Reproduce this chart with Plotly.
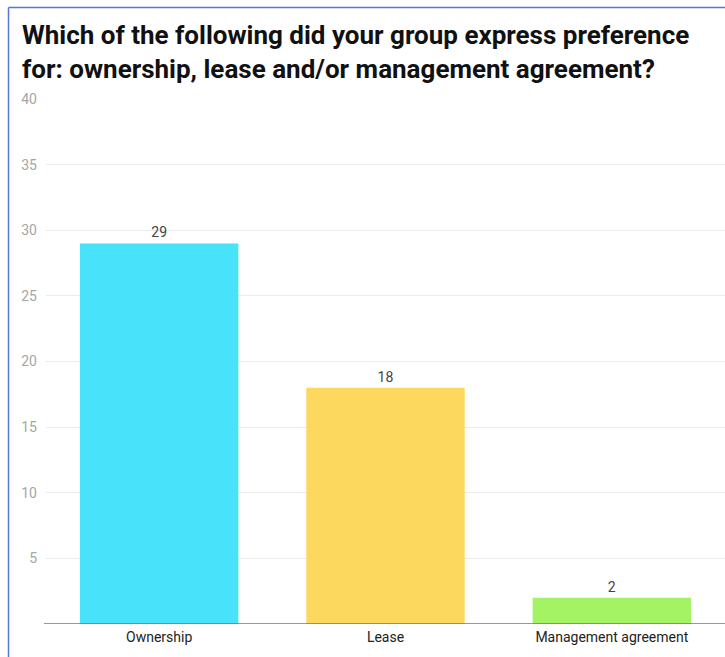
import plotly.graph_objects as go

categories = ["Ownership", "Lease", "Management agreement"]
values = [29, 18, 2]
colors = ["#48E2FA", "#FCD95E", "#A3F365"]
y_ticks = [0, 5, 10, 15, 20, 25, 30, 35, 40]
y_tick_labels = ["", "5", "10", "15", "20", "25", "30", "35", "40"]
title_lines = ["Which of the following did your group express preference",
               "for: ownership, lease and/or management agreement?"]

W, H = 725, 657
L, R, T, B = 46, 0, 99, 33
pw, ph = W - L - R, H - T - B

def px_x(px):
    return (px - L) / pw

def px_y(py):
    return (H - B - py) / ph

fig = go.Figure()
fig.add_trace(go.Bar(
    x=categories, y=values,
    marker=dict(color=colors, line=dict(width=0)),
    width=0.70,
    text=[str(v) for v in values],
    textposition="outside",
    textfont=dict(family="Roboto", size=14, color="#444444"),
    cliponaxis=False,
))

fig.update_layout(
    width=W, height=H,
    margin=dict(l=L, r=R, t=T, b=B, pad=0),
    paper_bgcolor="white", plot_bgcolor="white",
    showlegend=False,
    font=dict(family="Roboto", size=14, color="#333333"),
    xaxis=dict(
        showgrid=False, zeroline=False, showline=False,
        ticks="", tickfont=dict(family="Roboto", size=14, color="#222222"),
        range=[-0.5, 2.5], ticklabelstandoff=3,
    ),
    yaxis=dict(
        range=[0, 40], tickvals=y_ticks, ticktext=y_tick_labels,
        showgrid=True, gridcolor="#EBEBEB", gridwidth=1,
        zeroline=False, showline=False, ticks="",
        tickfont=dict(family="Roboto", size=14, color="#A6A6A6"),
        ticklabelstandoff=8,
    ),
)

# baseline
fig.add_shape(type="line", xref="paper", yref="y",
              x0=px_x(44), x1=1, y0=0, y1=0,
              line=dict(color="#777777", width=1.5))

# border (top and left)
fig.add_shape(type="line", xref="paper", yref="paper",
              x0=px_x(8.5), x1=px_x(W + 5), y0=px_y(7.5), y1=px_y(7.5),
              line=dict(color="#5479D4", width=1.5))
fig.add_shape(type="line", xref="paper", yref="paper",
              x0=px_x(8.5), x1=px_x(8.5), y0=px_y(7.5), y1=px_y(H + 5),
              line=dict(color="#5479D4", width=1.5))

for i, line in enumerate(title_lines):
    fig.add_annotation(
        text="<b>" + line + "</b>", xref="paper", yref="paper",
        x=px_x(20), y=px_y(35 + i * 34), xanchor="left", yanchor="middle",
        showarrow=False,
        font=dict(family="Roboto", size=26, color="#111111"),
    )

fig.write_html("out.html")
